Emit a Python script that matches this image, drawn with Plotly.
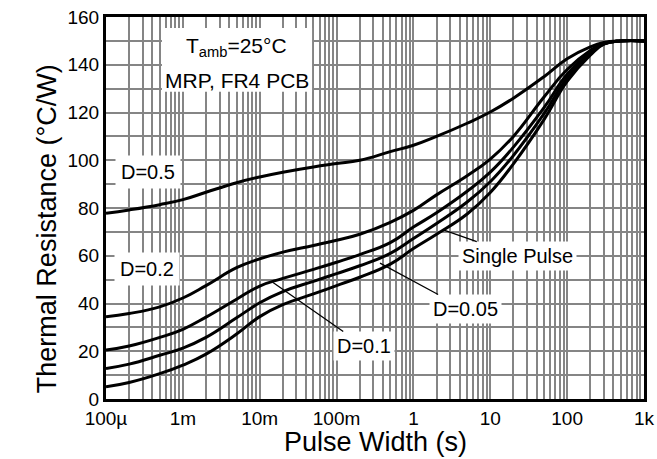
import numpy as np
import plotly.graph_objects as go

# ---- data ----
pulse_width = [1e-4, 2e-4, 5e-4, 1e-3, 2e-3, 5e-3, 1e-2, 2e-2, 5e-2, 0.1, 0.2, 0.5,
               1, 2, 5, 10, 20, 50, 100, 200, 300, 500, 1000]
d_05 = [77.8, 79.2, 81.4, 83.5, 86.6, 90.6, 93.0, 95.0, 97.2, 98.6, 100.0, 103.6,
        106.3, 110.0, 115.5, 120.2, 126.0, 135.0, 142.5, 147.5, 149.3, 150, 150]
d_02 = [34.4, 35.8, 38.6, 42.3, 47.5, 55.0, 58.7, 61.5, 64.3, 66.5, 69.0, 74.0,
        79.0, 85.5, 93.5, 100.5, 110.0, 126.5, 138.0, 146.0, 149.0, 150, 150]
d_01 = [20.5, 22.2, 25.8, 29.2, 34.3, 41.8, 47.3, 50.5, 54.3, 57.3, 60.5, 65.5,
        72.0, 78.0, 87.0, 95.0, 105.5, 122.0, 136.0, 145.0, 148.8, 150, 150]
d_005 = [12.8, 14.6, 18.3, 21.3, 25.8, 34.0, 40.3, 45.0, 49.3, 52.5, 55.8, 61.0,
         67.2, 73.5, 82.5, 91.0, 102.0, 119.5, 134.5, 144.5, 148.7, 150, 150]
single = [5.1, 6.9, 10.6, 14.2, 18.8, 27.2, 34.5, 39.5, 44.0, 47.5, 51.0, 56.5,
          63.0, 69.0, 77.5, 86.5, 98.5, 117.0, 133.0, 144.0, 148.6, 150, 150]

series = [("D=0.5", d_05), ("D=0.2", d_02), ("D=0.1", d_01),
          ("D=0.05", d_005), ("Single Pulse", single)]

x_decades = [1e-4, 1e-3, 1e-2, 1e-1, 1, 10, 100, 1000]
x_labels = ["100µ", "1m", "10m", "100m", "1", "10", "100", "1k"]
y_ticks = list(range(0, 161, 10))
y_labels = [str(v) if v % 20 == 0 else "" for v in y_ticks]

FONT = "Liberation Sans, Arial, sans-serif"
GRID = "#858585"

fig = go.Figure()
for name, vals in series:
    fig.add_trace(go.Scatter(x=pulse_width, y=vals, mode="lines", name=name,
                             line=dict(color="black", width=3, shape="spline",
                                       smoothing=1.3),
                             showlegend=False))

# x gridlines at every 1..9 multiple, labels only at decades
x_tickvals, x_ticktext = [], []
for i, dec in enumerate(x_decades):
    for m in range(1, 10):
        v = dec * m
        if v > 1000 * 1.0001:
            break
        x_tickvals.append(v)
        x_ticktext.append(x_labels[i] if m == 1 else "")

fig.update_xaxes(type="log", range=[-4, 3], tickmode="array",
                 tickvals=x_tickvals, ticktext=x_ticktext,
                 showgrid=True, gridcolor=GRID, gridwidth=1.5,
                 showline=True, linecolor="black", linewidth=3, mirror=True,
                 ticks="", zeroline=False, automargin=False,
                 tickfont=dict(family=FONT, size=19, color="black"))
fig.update_yaxes(range=[0, 160], tickmode="array", tickvals=y_ticks,
                 ticktext=y_labels,
                 showgrid=True, gridcolor=GRID, gridwidth=1.5,
                 showline=True, linecolor="black", linewidth=3, mirror=True,
                 ticks="", zeroline=False, automargin=False,
                 tickfont=dict(family=FONT, size=19, color="black"))

# axis titles placed as in the reference
fig.add_annotation(xref="paper", yref="paper", x=0.5, y=-0.113,
                   text="Pulse Width (s)", showarrow=False, yanchor="middle",
                   font=dict(family=FONT, size=27, color="black"))
fig.add_annotation(xref="paper", yref="paper", x=-0.141, y=0.445,
                   text="Thermal Resistance (°C/W)", textangle=-90,
                   showarrow=False,
                   font=dict(family=FONT, size=27, color="black"))

# white box behind the conditions text
fig.add_shape(type="rect", xref="x domain", yref="y domain",
              x0=0.104, x1=0.383, y0=0.804, y1=0.971,
              fillcolor="white", line=dict(width=0), layer="above")
fig.add_annotation(x=np.log10(5.0e-3), y=147.5, text="T<sub>amb</sub>=25°C",
                   showarrow=False, font=dict(family=FONT, size=21, color="black"))
fig.add_annotation(x=np.log10(5.0e-3), y=133.3, text="MRP, FR4 PCB",
                   showarrow=False, font=dict(family=FONT, size=21, color="black"))

# plain labels
lab_font = dict(family=FONT, size=20, color="black")
fig.add_annotation(x=np.log10(3.5e-4), y=95, text="D=0.5", showarrow=False,
                   bgcolor="white", borderpad=5, font=lab_font)
fig.add_annotation(x=np.log10(3.4e-4), y=54.6, text="D=0.2", showarrow=False,
                   bgcolor="white", borderpad=5, font=lab_font)

# labels with pointer lines (arrow tip on the curve, text at ax/ay)
pointers = [
    ("D=0.1", -1.827, 48.8, -0.643, 22.2),
    ("D=0.05", -0.435, 56.9, 0.671, 37.7),
    ("Single Pulse", 0.398, 70.7, 1.36, 59.8),
]
for txt, xt, yt, xl, yl in pointers:
    fig.add_annotation(x=xt, y=yt, ax=xl, ay=yl, axref="x", ayref="y",
                       text=txt, showarrow=True, arrowhead=0, arrowwidth=1.3,
                       arrowcolor="black", bgcolor="white", borderpad=3,
                       font=lab_font)

fig.update_layout(width=657, height=459,
                  margin=dict(l=106, r=13, t=17, b=60),
                  plot_bgcolor="white", paper_bgcolor="white",
                  font=dict(family=FONT, color="black"))

fig.write_html("out.html")
